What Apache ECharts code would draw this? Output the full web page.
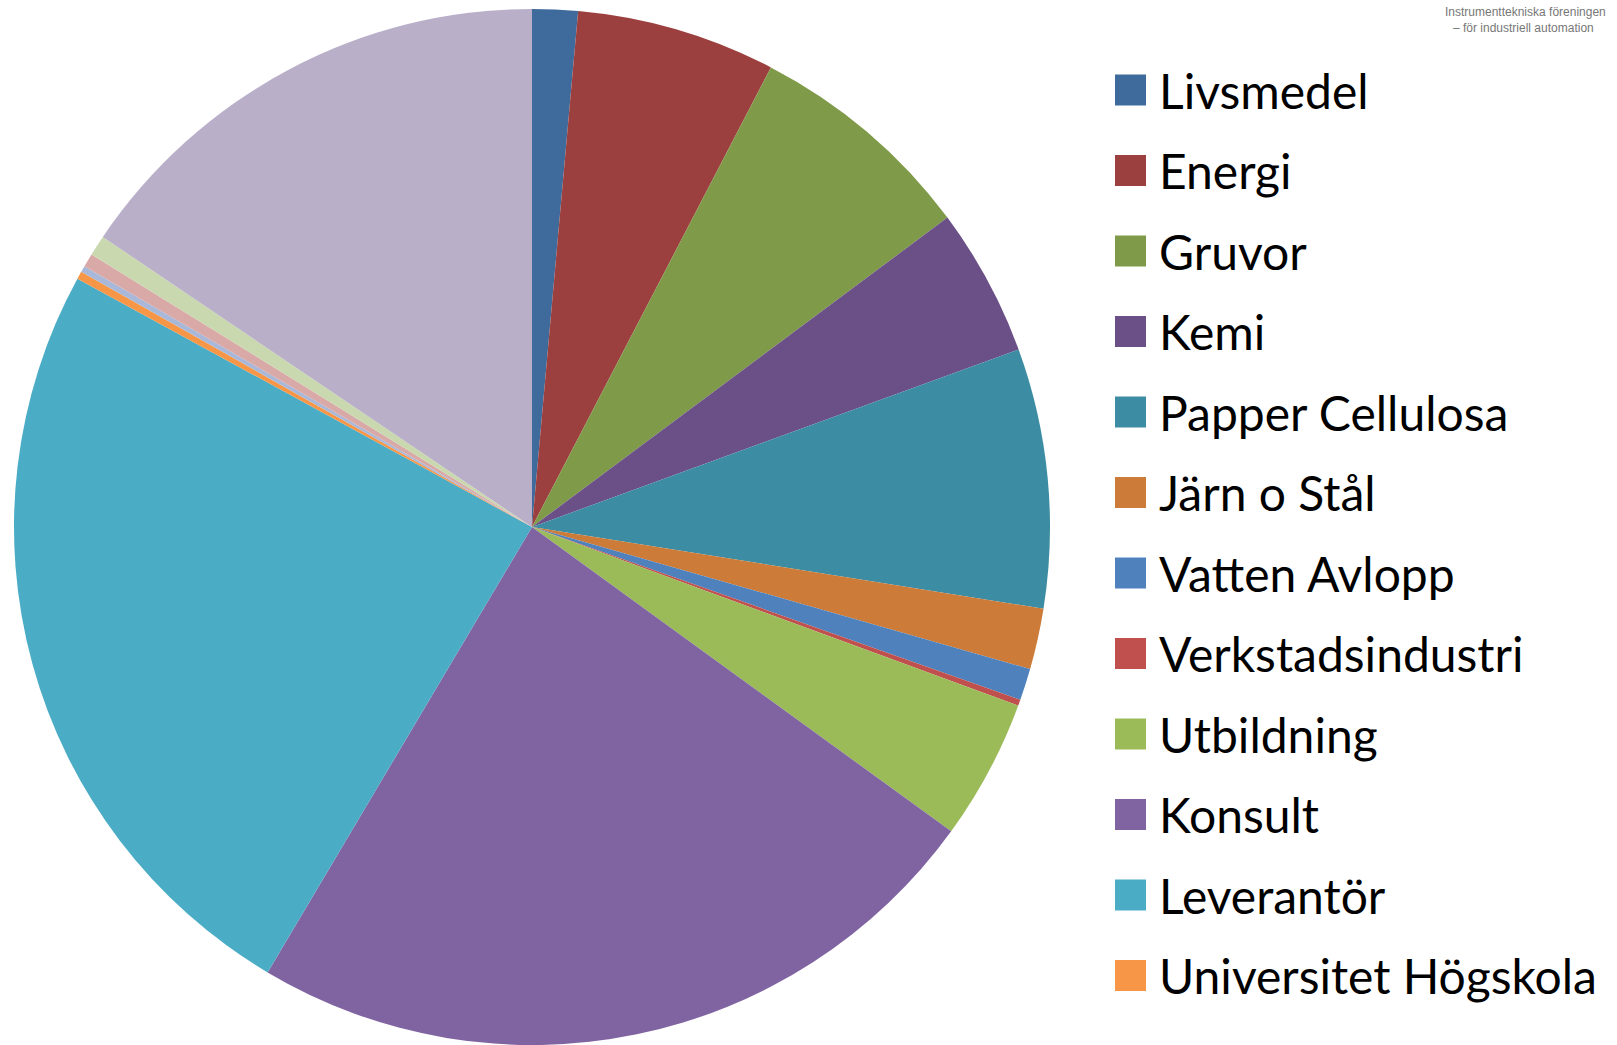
<!DOCTYPE html>
<html>
<head>
<meta charset="utf-8">
<script src="https://cdn.jsdelivr.net/npm/echarts@6/dist/echarts.min.js"></script>
<style>
  html, body { margin: 0; padding: 0; background: #fff; }
  #chart { width: 1617px; height: 1045px; }
</style>
</head>
<body>
<div id="chart"></div>
<script>
// Branschfördelning – andelar i procent
const categories = [
  'Livsmedel', 'Energi', 'Gruvor', 'Kemi', 'Papper Cellulosa', 'Järn o Stål',
  'Vatten Avlopp', 'Verkstadsindustri', 'Utbildning', 'Konsult', 'Leverantör',
  'Universitet Högskola', 'Övrigt 1', 'Övrigt 2', 'Övrigt 3', 'Övrigt 4'
];
const shares = [
  1.42, 6.21, 7.18, 4.62, 8.09, 1.90,
  0.99, 0.19, 4.39, 23.53, 24.43,
  0.24, 0.20, 0.42, 0.64, 15.54
];
const colors = [
  '#3f6a9c', '#9c403f', '#7f9a48', '#6a5087', '#3c8ca3', '#cc7b38',
  '#4f81bd', '#c0504d', '#9bbb59', '#8064a2', '#4bacc6',
  '#f79646', '#a9b8d8', '#d9a9a8', '#c9d8af', '#b9afc9'
];
// bara de tolv första visas i förklaringen
const legendNames = categories.slice(0, 12);

const chart = echarts.init(document.getElementById('chart'), null, { renderer: 'svg' });
chart.setOption({
  backgroundColor: '#fff',
  animation: false,
  color: colors,
  legend: {
    data: legendNames,
    orient: 'vertical',
    left: 1115,
    top: 66,
    padding: 0,
    itemWidth: 31,
    itemHeight: 31,
    itemGap: 32.5,
    icon: 'rect',
    selectedMode: false,
    textStyle: { color: '#000', fontFamily: 'Lato', fontSize: 48, padding: [0, 0, 0, 8] },
  },
  graphic: [
    { type: 'text', left: 1445, top: 6, style: { text: 'Instrumenttekniska föreningen', fill: '#777', font: '12px "Liberation Sans"' } },
    { type: 'text', left: 1453, top: 22, style: { text: '– för industriell automation', fill: '#777', font: '12px "Liberation Sans"' } },
  ],
  series: [
    {
      type: 'pie',
      center: [532, 527],
      radius: 518,
      startAngle: 90,
      clockwise: true,
      silent: true,
      label: { show: false },
      labelLine: { show: false },
      itemStyle: { borderWidth: 0 },
      emphasis: { disabled: true },
      data: categories.map((name, i) => ({ name, value: shares[i] })),
    },
  ],
});
</script>
</body>
</html>
